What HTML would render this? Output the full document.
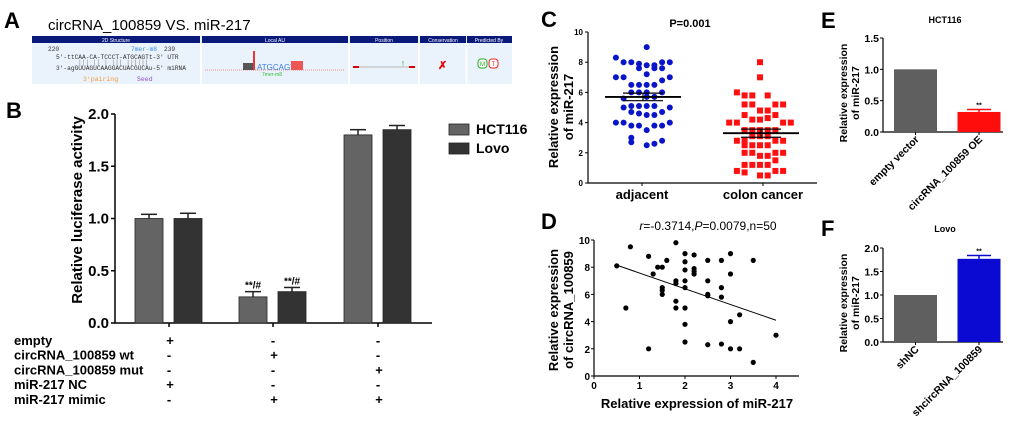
<!DOCTYPE html>
<html><head><meta charset="utf-8"><style>
html,body{margin:0;padding:0;background:#fff;}
svg{display:block;font-family:"Liberation Sans",Arial,sans-serif;}
.b{font-weight:bold;}
</style></head><body>
<svg id="fig" width="1020" height="422" viewBox="0 0 1020 422">
<!-- Panel A -->
<g>
<text x="4" y="28" font-size="22" class="b">A</text>
<text x="48" y="30" font-size="15">circRNA_100859 VS. miR-217</text>
<rect x="32" y="36" width="480" height="48" fill="#eaf2fb"/>
<g fill="#0a1a7a">
<rect x="32" y="36" width="168" height="7"/><rect x="202" y="36" width="146" height="7"/><rect x="350" y="36" width="68" height="7"/><rect x="420" y="36" width="46" height="7"/><rect x="467" y="36" width="45" height="7"/></g>
<g fill="#fff" font-size="5" text-anchor="middle">
<text x="116" y="42">2D Structure</text>
<text x="275" y="42">Local AU</text>
<text x="384" y="42">Position</text>
<text x="443" y="42">Conservation</text>
<text x="489" y="42">Predicted By</text></g>
<g stroke="#fff" stroke-width="2"><line x1="201" y1="43" x2="201" y2="84"/><line x1="349" y1="43" x2="349" y2="84"/><line x1="419" y1="43" x2="419" y2="84"/><line x1="466.5" y1="43" x2="466.5" y2="84"/></g>
<g font-family="Liberation Mono,monospace" font-size="6.2" fill="#333">
<text x="48" y="51">220</text><text x="131" y="51" fill="#3a8ee6">7mer-m8</text><text x="164" y="51">239</text>
<text x="56" y="59">5'-ttCAA-CA-TCCCT-ATGCAGTt-3' UTR</text>
<text x="78" y="64" fill="#888">||| || | |||  ||||||</text>
<text x="56" y="70">3'-agGUUAGUCAAGGACUACGUCAu-5' miRNA</text>
<text x="83" y="81" fill="#f39a3a" font-size="6.5">3'pairing</text><text x="137" y="81" fill="#8a4fd0" font-size="6.5">Seed</text></g>
<g>
<line x1="205" y1="70" x2="345" y2="70" stroke="#e88" stroke-width="1" stroke-dasharray="1,1"/>
<rect x="243" y="63" width="10" height="7" fill="#555"/><rect x="253" y="51" width="2" height="19" fill="#e33"/>
<text x="257" y="70" font-size="8" fill="#3a7ee6">ATGCAGT</text>
<rect x="291" y="61" width="12" height="9" fill="#e55"/>
<text x="262" y="76" font-size="5" fill="#3b3">7mer-m8</text></g>
<g><line x1="356" y1="67" x2="412" y2="67" stroke="#bbb"/><rect x="353" y="66" width="6" height="2" fill="#d00"/><rect x="409" y="66" width="6" height="2" fill="#d00"/><text x="402" y="66" font-size="7" fill="#393">!</text></g>
<text x="438" y="69" font-size="11" fill="#e00" class="b">✗</text>
<g><rect x="478" y="59" width="9" height="9" rx="3" fill="#fff" stroke="#2a2"/><text x="482.5" y="66" font-size="6" fill="#2a2" text-anchor="middle">M</text><rect x="489" y="59" width="9" height="9" rx="3" fill="#fff" stroke="#e22"/><text x="493.5" y="66" font-size="6" fill="#e22" text-anchor="middle">T</text></g>
</g>
<g id="pB"></g>
<g id="pC"></g>
<g id="pD"></g>
<g id="pE"></g>
<g id="pF"></g>
</svg>
<script>
// Panel B data
const bGroups = ["empty", "wt", "mut"];
const bHct = [1.0, 0.25, 1.8];
const bHctErr = [0.04, 0.05, 0.05];
const bLovo = [1.0, 0.30, 1.85];
const bLovoErr = [0.05, 0.04, 0.04];
const bTicks = [0, 0.5, 1.0, 1.5, 2.0];
const bRows = ["empty","circRNA_100859 wt","circRNA_100859 mut","miR-217 NC","miR-217 mimic"];
const bSigns = [["+","-","-"],["-","+","-"],["-","-","+"],["+","-","-"],["-","+","+"]];
// Panel C data
const cAdjVals = [9.0,8.3,8.0,8.0,7.9,7.8,7.8,8.0,8.0,7.6,7.6,7.6,7.2,7.0,7.0,6.8,7.0,6.5,6.5,6.5,6.5,6.0,6.0,6.0,6.0,5.6,5.7,5.7,5.0,5.1,5.1,5.1,5.1,5.0,4.7,4.6,4.5,4.5,4.7,4.0,4.0,3.8,3.8,3.5,3.8,3.8,4.0,3.0,2.7,2.5,2.6,2.8];
const cAdjSlot = [1,-3,-2,-1,0,1,2,3,4,0,2,3,1,-3,-2,3,4,-1,0,1,2,-1,0,1,3,-2,1,2,-2,-1,0,1,2,4,-1,0,1,2,3,-3,-2,-1,0,1,2,3,4,-1,-1,1,2,3];
const cCanVals = [8.0,7.0,6.0,5.8,5.8,5.8,5.2,5.2,5.2,5.2,4.8,4.8,4.5,4.5,4.2,4.2,4.3,4.0,4.0,4.0,4.0,3.5,3.5,3.5,3.5,3.5,2.8,2.8,3.1,3.1,3.1,2.8,2.8,2.5,2.5,2.5,2.5,2.0,2.0,1.8,1.8,2.0,2.0,1.2,1.2,1.2,1.2,1.5,0.8,0.7,0.5,0.5,0.8,0.8];
const cCanSlot = [0,0,-3,-2,-1,1,-2,-1,2,3,0,1,-2,2,-1,0,1,-4,-3,3,4,-2,-1,0,1,2,-3,-2,-1,0,1,2,3,-2,-1,0,1,-2,-1,0,1,2,3,-2,-1,0,1,2,-3,-2,0,1,2,3];
const cMeans = [5.7, 3.3];
const cSem = [0.25, 0.27];
const cTicks = [0,2,4,6,8,10];
const cCats = ["adjacent","colon cancer"];
// Panel D data
const dX = [0.5,0.7,0.8,1.2,1.2,1.3,1.4,1.5,1.5,1.5,1.5,1.6,1.8,1.8,1.8,1.8,1.8,2,2,2,2,2,2,2,2,2.2,2.2,2.2,2.2,2.5,2.5,2.5,2.5,2.5,2.8,2.8,2.8,2.8,3,3,3,3,3.2,3.2,3.5,3.5,4];
const dY = [8.1,5,9.5,8.8,2,7.5,8,8,6.5,6.3,6,8.5,9.8,7,6.8,5.5,5,9,8.4,7.8,7,6.5,5,3.8,2.5,8.9,7.9,7.7,7.5,8.5,7,6,5.9,2.3,8.5,6.5,5.8,2.35,9,7.5,4,2,4.5,2,8.5,1,3];
const dFit = [[0.5,8.15],[4,4.1]];
const dXTicks = [0,1,2,3,4];
const dYTicks = [0,2,4,6,8,10];
// Panel E/F data
const eCats = ["empty vector","circRNA_100859 OE"];
const eVals = [1.0, 0.32];
const eErr = [0, 0.04];
const eTicks = [0,0.5,1.0,1.5];
const fCats = ["shNC","shcircRNA_100859"];
const fVals = [1.0, 1.77];
const fErr = [0, 0.07];
const fTicks = [0,0.5,1.0,1.5,2.0];

const NS="http://www.w3.org/2000/svg";
function mk(p,tag,a,txt){const e=document.createElementNS(NS,tag);for(const k in a)e.setAttribute(k,a[k]);if(txt!==undefined)e.textContent=txt;p.appendChild(e);return e;}
const fmt=v=>v.toFixed(1);

// ---------- Panel B ----------
(function(){
const g=document.getElementById('pB');
const x0=115,y0=323,yTop=114,xEnd=432;
const ys=v=>y0-(v/2.0)*(y0-yTop);
const centers=[169,273,378];
let t=mk(g,'text',{x:6,y:118,'font-size':22,'font-weight':'bold'},'B');


let ax=mk(g,'path',{d:`M${x0},${yTop} V${y0} H${xEnd}`,stroke:'#000','stroke-width':1.5,fill:'none'});


bTicks.forEach(v=>{const y=ys(v);mk(g,'line',{x1:x0-4,x2:x0,y1:y,y2:y,stroke:'#000','stroke-width':1.5});
 const l=mk(g,'text',{x:x0-6,y:y+5,'font-size':15,'font-weight':'bold','text-anchor':'end'},fmt(v));
 
 });
centers.forEach(c=>mk(g,'line',{x1:c,x2:c,y1:y0,y2:y0+4,stroke:'#000','stroke-width':1.5}));
let yl=mk(g,'text',{x:0,y:0,'font-size':15,'font-weight':'bold','text-anchor':'middle',transform:'translate(82,210) rotate(-90)'},'Relative luciferase activity');


function bar(cx,v,e,col,name){const w=28,y=ys(v);
 const r=mk(g,'rect',{x:cx-w/2,y:y,width:w,height:y0-y,fill:col,stroke:'#222','stroke-width':0.8});
 
 
 const ye=ys(v+e);mk(g,'line',{x1:cx,x2:cx,y1:y,y2:ye,stroke:'#222','stroke-width':1.5});mk(g,'line',{x1:cx-8,x2:cx+8,y1:ye,y2:ye,stroke:'#222','stroke-width':1.5});return ye;}
bGroups.forEach((k,i)=>{
 const a=bar(centers[i]-20,bHct[i],bHctErr[i],'#646464','bar-hct116-'+k);
 const b=bar(centers[i]+19,bLovo[i],bLovoErr[i],'#333333','bar-lovo-'+k);
 if(k==='wt'){[[centers[i]-20,a],[centers[i]+19,b]].forEach(p=>{const s=mk(g,'text',{x:p[0],y:p[1]-3,'font-size':10,'font-weight':'bold','text-anchor':'middle'},'**/#');
 
 });}
});
[['HCT116','#646464',124],['Lovo','#333333',143]].forEach(L=>{
 const r=mk(g,'rect',{x:449,y:L[2],width:20,height:11,fill:L[1],stroke:'#222','stroke-width':0.8});
 
 
 const tt=mk(g,'text',{x:476,y:L[2]+10,'font-size':14,'font-weight':'bold'},L[0]);
 
 });
bRows.forEach((r,i)=>{const y=345+i*14.7;
 const l=mk(g,'text',{x:14,y:y,'font-size':13,'font-weight':'bold'},r);
 
 
 bSigns[i].forEach((s,j)=>{const st=mk(g,'text',{x:centers[j]+(s==='+'?1:0),y:y,'font-size':13,'font-weight':'bold','text-anchor':'middle'},s);
 
 });});
})();

// ---------- Panel C ----------
(function(){
const g=document.getElementById('pC');
const x0=588,y0=183,yTop=32,xEnd=817;
const ys=v=>y0-(v/10)*(y0-yTop);
const cx=[639,760],sp=7.7;
let t=mk(g,'text',{x:541,y:27,'font-size':22,'font-weight':'bold'},'C');


let ti=mk(g,'text',{x:690,y:27,'font-size':11,'font-weight':'bold','text-anchor':'middle'},'P=0.001');


let ax=mk(g,'path',{d:`M${x0},${yTop} V${y0} H${xEnd}`,stroke:'#000','stroke-width':1.2,fill:'none'});


cTicks.forEach(v=>{const y=ys(v);mk(g,'line',{x1:x0-3,x2:x0,y1:y,y2:y,stroke:'#000'});
 const l=mk(g,'text',{x:x0-5,y:y+3,'font-size':8,'font-weight':'bold','text-anchor':'end'},v);
 
 });
cCats.forEach((c,i)=>{mk(g,'line',{x1:cx[i]+3,x2:cx[i]+3,y1:y0,y2:y0+3,stroke:'#000'});
 const l=mk(g,'text',{x:cx[i]+3,y:199,'font-size':13,'font-weight':'bold','text-anchor':'middle'},c);
 
 });
let yl=mk(g,'text',{'font-size':13,'font-weight':'bold','text-anchor':'middle',transform:'translate(558,107) rotate(-90)'},'Relative expression');


let yl2=mk(g,'text',{'font-size':13,'font-weight':'bold','text-anchor':'middle',transform:'translate(573,107) rotate(-90)'},'of miR-217');


cAdjVals.forEach((v,i)=>{const p=mk(g,'circle',{cx:cx[0]+cAdjSlot[i]*sp,cy:ys(v),r:3,fill:'#0a14c8'});
 
 });
cCanVals.forEach((v,i)=>{const p=mk(g,'rect',{x:cx[1]+cCanSlot[i]*sp-3,y:ys(v)-3,width:6,height:6,fill:'#ff1010'});
 
 });
cMeans.forEach((m,i)=>{const c=cx[i]+(i?1:4);
 const l=mk(g,'line',{x1:c-38,x2:c+38,y1:ys(m),y2:ys(m),stroke:'#000','stroke-width':1.8});
 
 
 [m+cSem[i],m-cSem[i]].forEach(v=>mk(g,'line',{x1:c-20,x2:c+20,y1:ys(v),y2:ys(v),stroke:'#000','stroke-width':1.2}));
 mk(g,'line',{x1:c,x2:c,y1:ys(m+cSem[i]),y2:ys(m-cSem[i]),stroke:'#000','stroke-width':1.2});});
})();

// ---------- Panel D ----------
(function(){
const g=document.getElementById('pD');
const x0=594,y0=376,yTop=240;
const xs=v=>x0+v*45.5, ys=v=>y0-(v/10)*(y0-yTop);
let t=mk(g,'text',{x:541,y:229,'font-size':22,'font-weight':'bold'},'D');


let ti=mk(g,'text',{x:708,y:230,'font-size':12,'text-anchor':'middle'});


ti.innerHTML='<tspan font-style="italic">r</tspan>=-0.3714,<tspan font-style="italic">P</tspan>=0.0079,n=50';
let ax=mk(g,'path',{d:`M${x0},${yTop} V${y0} H799`,stroke:'#000','stroke-width':1.2,fill:'none'});


dYTicks.forEach(v=>{const y=ys(v);mk(g,'line',{x1:x0-3,x2:x0,y1:y,y2:y,stroke:'#000'});
 const l=mk(g,'text',{x:x0-4,y:y+4,'font-size':10,'font-weight':'bold','text-anchor':'end'},v);
 
 });
dXTicks.forEach(v=>{const x=xs(v);mk(g,'line',{x1:x,x2:x,y1:y0,y2:y0+3,stroke:'#000'});
 const l=mk(g,'text',{x:x,y:y0+13,'font-size':10,'font-weight':'bold','text-anchor':'middle'},v);
 
 });
let xl=mk(g,'text',{x:697,y:408,'font-size':13,'font-weight':'bold','text-anchor':'middle'},'Relative expression of miR-217');


let yl=mk(g,'text',{'font-size':13,'font-weight':'bold','text-anchor':'middle',transform:'translate(558,310) rotate(-90)'},'Relative expression');


let yl2=mk(g,'text',{'font-size':13,'font-weight':'bold','text-anchor':'middle',transform:'translate(573,310) rotate(-90)'},'of circRNA_100859');


let fl=mk(g,'line',{x1:xs(dFit[0][0]),y1:ys(dFit[0][1]),x2:xs(dFit[1][0]),y2:ys(dFit[1][1]),stroke:'#000','stroke-width':1});


dX.forEach((v,i)=>{const p=mk(g,'circle',{cx:xs(v),cy:ys(dY[i]),r:2.6,fill:'#000'});
 
 });
})();

// ---------- Panels E/F ----------
function smallBar(id,letter,title,y0,yTop,max,ticks,cats,vals,errs,colors,ly,ty){
const g=document.getElementById(id);
const x0=883;const ys=v=>y0-(v/max)*(y0-yTop);
let t=mk(g,'text',{x:821,y:ly,'font-size':22,'font-weight':'bold'},letter);


let ti=mk(g,'text',{x:945,y:ty,'font-size':9,'font-weight':'bold','text-anchor':'middle'},title);


let ax=mk(g,'path',{d:`M${x0},${yTop} V${y0} H1003`,stroke:'#000','stroke-width':1.2,fill:'none'});


ticks.forEach(v=>{const y=ys(v);mk(g,'line',{x1:x0-3,x2:x0,y1:y,y2:y,stroke:'#000'});
 const l=mk(g,'text',{x:x0-4,y:y+4,'font-size':10.5,'font-weight':'bold','text-anchor':'end'},fmt(v));
 
 });
const mid=(y0+yTop)/2;
let yl=mk(g,'text',{'font-size':10.5,'font-weight':'bold','text-anchor':'middle',transform:`translate(847,${mid+8}) rotate(-90)`},'Relative expression');


let yl2=mk(g,'text',{'font-size':10.5,'font-weight':'bold','text-anchor':'middle',transform:`translate(859,${mid+8}) rotate(-90)`},'of miR-217');


const cx=[915.5,979];
cats.forEach((c,i)=>{const y=ys(vals[i]);
 const r=mk(g,'rect',{x:cx[i]-21.5,y:y,width:43,height:y0-y,fill:colors[i]});
 
 
 if(errs[i]>0){const ye=ys(vals[i]+errs[i]);mk(g,'line',{x1:cx[i],x2:cx[i],y1:y,y2:ye,stroke:colors[i],'stroke-width':1.5});mk(g,'line',{x1:cx[i]-12,x2:cx[i]+12,y1:ye,y2:ye,stroke:colors[i],'stroke-width':1.5});
  const s=mk(g,'text',{x:cx[i],y:ye-2,'font-size':7,'font-weight':'bold','text-anchor':'middle'},'**');
  
  }
 mk(g,'line',{x1:cx[i],x2:cx[i],y1:y0,y2:y0+3,stroke:'#000'});
 const l=mk(g,'text',{'font-size':10.5,'font-weight':'bold','text-anchor':'end',transform:`translate(${cx[i]+4},${y0+8}) rotate(-45)`},c);
 
 });
}
smallBar('pE','E','HCT116',132,38,1.5,eTicks,eCats,eVals,eErr,['#5f5f5f','#ff0d0d'],28,23);
smallBar('pF','F','Lovo',342,248,2.0,fTicks,fCats,fVals,fErr,['#5f5f5f','#0a0ad2'],236,232);
</script>
</body></html>
